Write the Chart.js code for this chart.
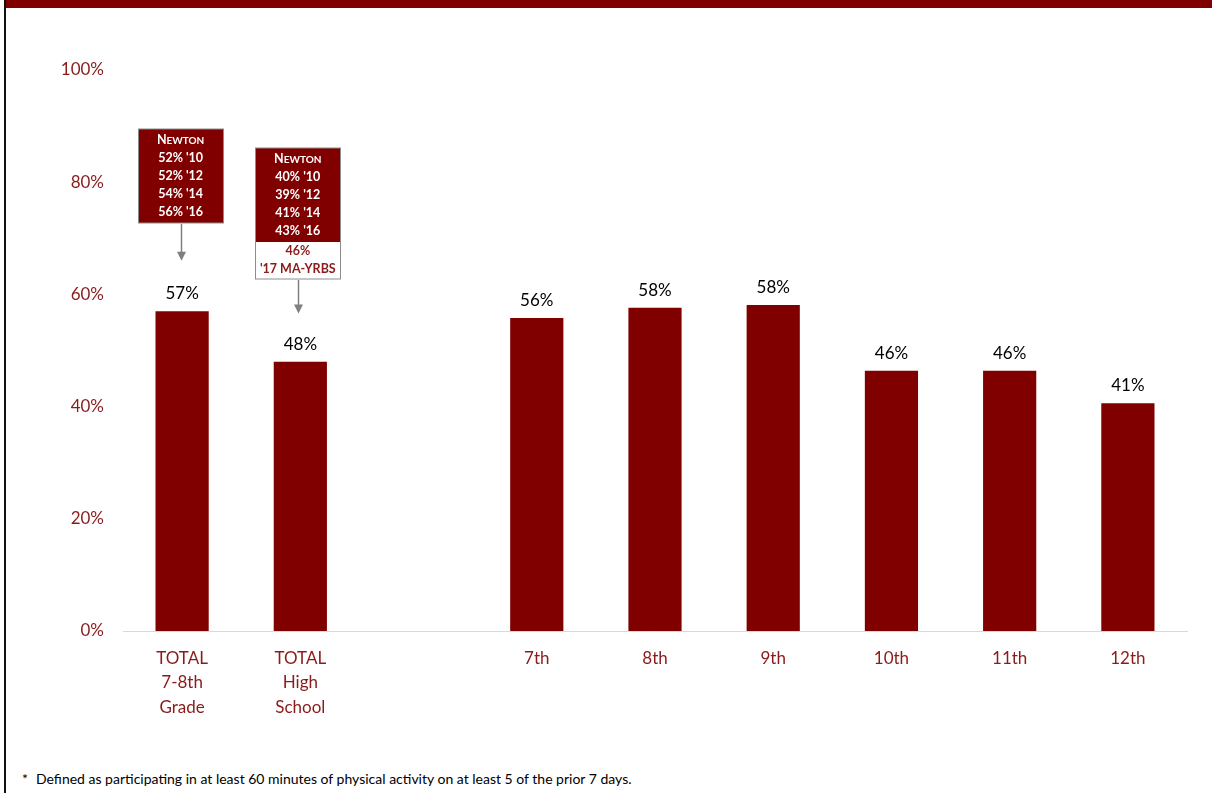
<!DOCTYPE html>
<html>
<head>
<meta charset="utf-8">
<script src="https://cdn.jsdelivr.net/npm/chart.js@4.4.1/dist/chart.umd.min.js"></script>
<style>
    html, body { margin: 0; padding: 0; background: #fff; }
    body { width: 1212px; height: 793px; position: relative; overflow: hidden; font-family: Lato, "Open Sans", sans-serif; }
    #topbar { position: absolute; left: 6px; top: 0; width: 1206px; height: 8px; background: #800000; }
    #leftline { position: absolute; left: 4px; top: 0; width: 2px; height: 793px; background: #111; }
    #wrap { position: absolute; left: 6px; top: 8px; width: 1206px; height: 723px; }
    #footnote { position: absolute; left: 22px; top: 770px; font-size: 14px; color: #000; white-space: pre; }
    #footnote span { display: inline-block; width: 14px; }
</style>
</head>
<body>
<div id="topbar"></div>
<div id="leftline"></div>
<div id="wrap"><canvas id="chart"></canvas></div>
<div id="footnote"><span>*</span>Defined as participating in at least 60 minutes of physical activity on at least 5 of the prior 7 days.</div>
<script>
// 分类与数值（空白分类用于分隔总计与年级）
const categories = [['TOTAL', '7-8th', 'Grade'], ['TOTAL', 'High', 'School'], '', '7th', '8th', '9th', '10th', '11th', '12th'];
const values = [57, 48, null, 55.8, 57.6, 58.1, 46.4, 46.4, 40.6];
const yTicks = [0, 20, 40, 60, 80, 100];

// 注释框内容
const box1Lines = ['NEWTON', "52% '10", "52% '12", "54% '14", "56% '16"];
const box2Lines = ['NEWTON', "40% '10", "39% '12", "41% '14", "43% '16"];
const box2Extra = ['46%', "'17 MA-YRBS"];

const RED = '#800000';
const TICK_RED = '#8B1A1A';
const FONT = 'Lato, "Open Sans", sans-serif';

// 柱顶数值标签
const valueLabels = {
    id: 'valueLabels',
    afterDatasetsDraw(chart) {
        const ctx = chart.ctx;
        const meta = chart.getDatasetMeta(0);
        ctx.save();
        ctx.font = '17px ' + FONT;
        ctx.fillStyle = '#000';
        ctx.textAlign = 'center';
        ctx.textBaseline = 'alphabetic';
        meta.data.forEach((bar, i) => {
            if (values[i] == null) return;
            ctx.fillText(Math.round(values[i]) + '%', bar.x, bar.y - 12);
        });
        ctx.restore();
    }
};

// 绘制 NEWTON 注释框与箭头
function drawBox(ctx, cx, top, lines, extra, tipY) {
    const w = 85, lh = 18;
    const redH = lines.length * lh + 4;
    const whiteH = extra ? extra.length * lh + 1 : 0;
    const left = Math.round(cx - w / 2) + 0.5;
    ctx.fillStyle = RED;
    ctx.fillRect(left, top, w, redH);
    if (extra) {
        ctx.fillStyle = '#fff';
        ctx.fillRect(left, top + redH, w, whiteH);
    }
    ctx.strokeStyle = '#8c8c8c';
    ctx.lineWidth = 1;
    ctx.strokeRect(left, top, w, redH + whiteH);
    ctx.textAlign = 'center';
    ctx.textBaseline = 'middle';
    lines.forEach((t, i) => {
        const y = top + 11 + i * lh;
        ctx.fillStyle = '#fff';
        if (t === 'NEWTON') {
            // 小型大写
            ctx.font = 'bold 12.5px ' + FONT;
            const wN = ctx.measureText('N').width;
            ctx.font = 'bold 10px ' + FONT;
            const wRest = ctx.measureText('EWTON').width;
            const start = cx - (wN + wRest) / 2;
            ctx.textAlign = 'left';
            ctx.font = 'bold 12.5px ' + FONT;
            ctx.fillText('N', start, y);
            ctx.font = 'bold 10px ' + FONT;
            ctx.fillText('EWTON', start + wN, y + 0.5);
            ctx.textAlign = 'center';
        } else {
            ctx.font = 'bold 12.5px ' + FONT;
            ctx.fillText(t, cx, y);
        }
    });
    if (extra) {
        extra.forEach((t, i) => {
            ctx.fillStyle = '#8B1A1A';
            ctx.font = 'bold 12.5px ' + FONT;
            ctx.fillText(t, cx, top + redH + 9 + i * lh);
        });
    }
    // 箭头
    const bottom = top + redH + whiteH;
    const ax = Math.round(cx) + 0.5;
    ctx.strokeStyle = '#808080';
    ctx.lineWidth = 1.5;
    ctx.beginPath();
    ctx.moveTo(ax, bottom + 1);
    ctx.lineTo(ax, tipY - 7);
    ctx.stroke();
    ctx.fillStyle = '#808080';
    ctx.beginPath();
    ctx.moveTo(ax - 4.5, tipY - 9);
    ctx.lineTo(ax + 4.5, tipY - 9);
    ctx.lineTo(ax, tipY);
    ctx.closePath();
    ctx.fill();
}

const callouts = {
    id: 'callouts',
    afterDraw(chart) {
        const ctx = chart.ctx;
        const x = chart.scales.x, y = chart.scales.y;
        ctx.save();
        drawBox(ctx, x.getPixelForValue(0) - 1.5, Math.round(y.getPixelForValue(89.5)), box1Lines, null, y.getPixelForValue(66));
        drawBox(ctx, x.getPixelForValue(1) - 2.5, Math.round(y.getPixelForValue(86.1)), box2Lines, box2Extra, y.getPixelForValue(56.6));
        ctx.restore();
    }
};

new Chart(document.getElementById('chart').getContext('2d'), {
    type: 'bar',
    data: {
        labels: categories,
        datasets: [{
            data: values,
            backgroundColor: RED,
            borderWidth: 0,
            barPercentage: 0.45,
            categoryPercentage: 1
        }]
    },
    options: {
        responsive: true,
        maintainAspectRatio: false,
        animation: false,
        layout: { padding: { top: 62, right: 25, left: 0, bottom: 0 } },
        plugins: { legend: { display: false }, tooltip: { enabled: false } },
        scales: {
            x: {
                grid: { display: false, drawTicks: false },
                border: { display: true, color: '#d9d9d9', width: 1 },
                ticks: {
                    color: TICK_RED,
                    font: { family: FONT, size: 17, lineHeight: 1.45 },
                    padding: 15,
                    maxRotation: 0,
                    autoSkip: false
                },
                afterFit(scale) { scale.height = 100; }
            },
            y: {
                min: 0,
                max: 100,
                afterBuildTicks(scale) { scale.ticks = yTicks.map(v => ({ value: v })); },
                grid: { display: false, drawTicks: false },
                border: { display: false },
                ticks: {
                    color: TICK_RED,
                    font: { family: FONT, size: 17 },
                    padding: 19,
                    callback: v => v + '%'
                },
                afterFit(scale) { scale.width = 117; }
            }
        }
    },
    plugins: [valueLabels, callouts]
});
</script>
</body>
</html>
